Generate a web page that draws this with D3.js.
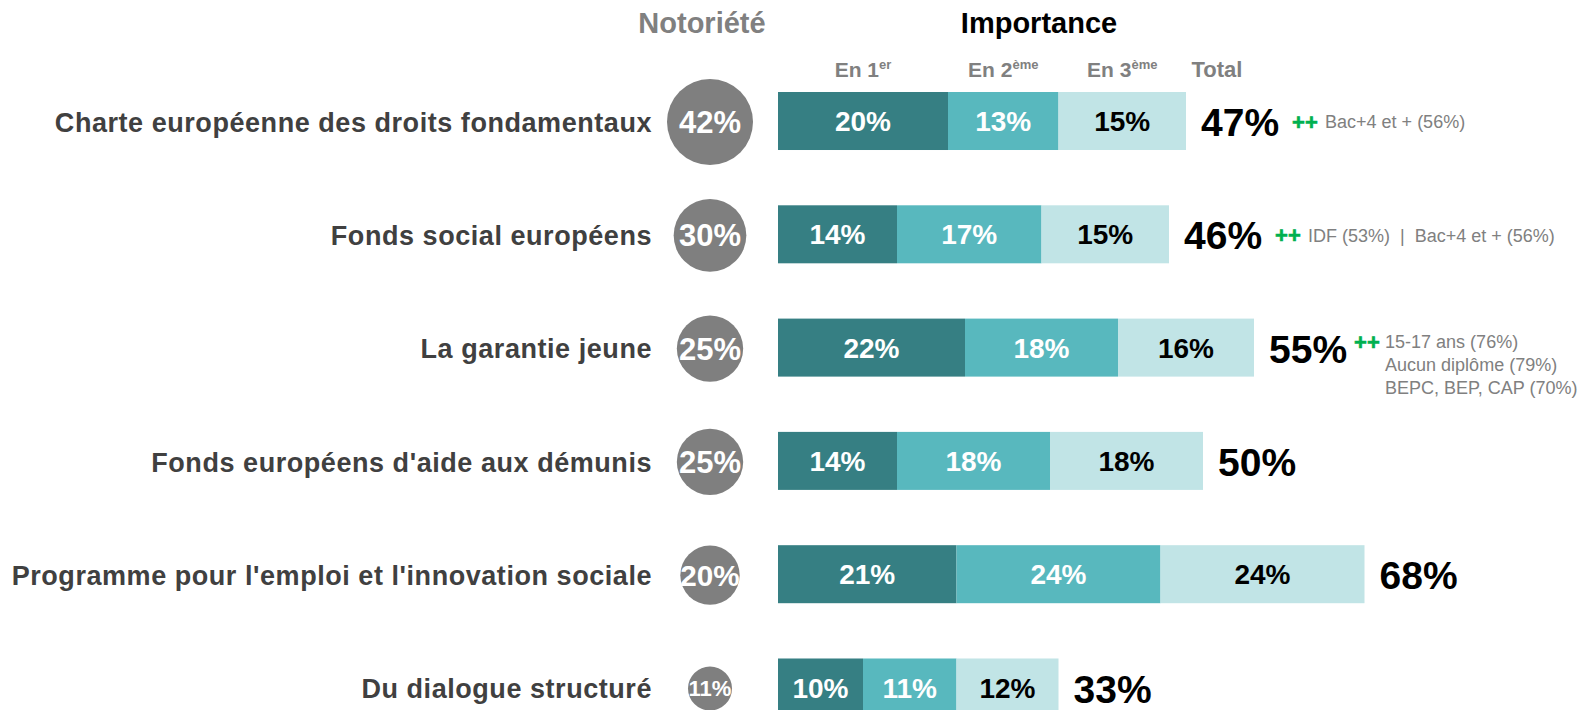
<!DOCTYPE html>
<html>
<head>
<meta charset="utf-8">
<script src="https://cdn.jsdelivr.net/npm/d3@7"></script>
<style>
  html, body { margin: 0; padding: 0; background: #fff; }
  svg { display: block; font-family: "Liberation Sans", Arial, sans-serif; }
</style>
</head>
<body>
<div id="chart"></div>
<script>
// data
const categories = [
  "Charte européenne des droits fondamentaux",
  "Fonds social européens",
  "La garantie jeune",
  "Fonds européens d'aide aux démunis",
  "Programme pour l'emploi et l'innovation sociale",
  "Du dialogue structuré"
];
const notoriete = [42, 30, 25, 25, 20, 11];
const rank1 = [20, 14, 22, 14, 21, 10];
const rank2 = [13, 17, 18, 18, 24, 11];
const rank3 = [15, 15, 16, 18, 24, 12];
const totals = [47, 46, 55, 50, 68, 33];
const seriesNames = ["En 1", "En 2", "En 3"];
const seriesSup = ["er", "ème", "ème"];
const notes = [
  ["Bac+4 et + (56%)"],
  ["IDF (53%)  |  Bac+4 et + (56%)"],
  ["15-17 ans (76%)", "Aucun diplôme (79%)", "BEPC, BEP, CAP (70%)"],
  [],
  [],
  []
];

const width = 1586, height = 710;
const colors = ["#367f83", "#58b8be", "#c1e4e6"];
const textColors = ["#ffffff", "#ffffff", "#000000"];

const svg = d3.select("#chart").append("svg")
  .attr("width", width)
  .attr("height", height);

const y = d3.scaleBand()
  .domain(categories)
  .range([92, 716.5])
  .paddingInner(0.488)
  .paddingOuter(0);

const x = d3.scaleLinear().domain([0, 100]).range([778, 778 + 850]);
const r = d3.scaleSqrt().domain([0, 42]).range([0, 43]);

const rows = categories.map((c, i) => {
  const vals = [rank1[i], rank2[i], rank3[i]];
  let acc = 0;
  const segs = vals.map((v, k) => {
    const s = { k: k, x0: acc, x1: acc + v, v: v, cat: c };
    acc += v;
    return s;
  });
  return { cat: c, i: i, segs: segs, end: acc };
});

// headers
svg.append("text")
  .attr("x", 702).attr("y", 33)
  .attr("text-anchor", "middle")
  .attr("fill", "#808080")
  .style("font-size", "29px").style("font-weight", "bold")
  .text("Notoriété");

svg.append("text")
  .attr("x", 1039).attr("y", 33)
  .attr("text-anchor", "middle")
  .attr("fill", "#000")
  .style("font-size", "29px").style("font-weight", "bold")
  .text("Importance");

// column headers centred over the first row's segments
rows[0].segs.forEach((s, k) => {
  const t = svg.append("text")
    .attr("x", (x(s.x0) + x(s.x1)) / 2)
    .attr("y", 77)
    .attr("text-anchor", "middle")
    .attr("fill", "#808080")
    .style("font-size", "21px").style("font-weight", "bold");
  t.append("tspan").text(seriesNames[k]);
  t.append("tspan")
    .attr("dy", -8)
    .style("font-size", "13px")
    .text(seriesSup[k]);
});

svg.append("text")
  .attr("x", 1217).attr("y", 77)
  .attr("text-anchor", "middle")
  .attr("fill", "#808080")
  .style("font-size", "22px").style("font-weight", "bold")
  .text("Total");

// category labels
svg.selectAll(".cat")
  .data(rows)
  .join("text")
  .attr("class", "cat")
  .attr("x", 652)
  .attr("y", d => y(d.cat) + y.bandwidth() / 2 + 1)
  .attr("dy", "0.36em")
  .attr("text-anchor", "end")
  .attr("fill", "#404040")
  .style("font-size", "27px")
  .style("font-weight", "bold")
  .style("letter-spacing", "0.55px")
  .text(d => d.cat);

// notoriety bubbles
const bubbles = svg.selectAll(".bubble")
  .data(rows)
  .join("g")
  .attr("class", "bubble")
  .attr("transform", d => `translate(710,${y(d.cat) + y.bandwidth() / 2 + 1})`);

bubbles.append("circle")
  .attr("r", d => r(notoriete[d.i]))
  .attr("fill", "#7f7f7f");

bubbles.append("text")
  .attr("text-anchor", "middle")
  .attr("dy", "0.36em")
  .attr("fill", "#fff")
  .style("font-weight", "bold")
  .style("font-size", d => Math.min(31, r(notoriete[d.i])) + "px")
  .text(d => notoriete[d.i] + "%");

// stacked bars
const bars = svg.selectAll(".row")
  .data(rows)
  .join("g")
  .attr("class", "row");

bars.selectAll("rect")
  .data(d => d.segs)
  .join("rect")
  .attr("x", s => x(s.x0))
  .attr("y", s => y(s.cat))
  .attr("width", s => x(s.x1) - x(s.x0))
  .attr("height", y.bandwidth())
  .attr("fill", s => colors[s.k]);

bars.selectAll(".seglabel")
  .data(d => d.segs)
  .join("text")
  .attr("class", "seglabel")
  .attr("x", s => (x(s.x0) + x(s.x1)) / 2)
  .attr("y", s => y(s.cat) + y.bandwidth() / 2)
  .attr("dy", "0.36em")
  .attr("text-anchor", "middle")
  .attr("fill", s => textColors[s.k])
  .style("font-size", "28px")
  .style("font-weight", "bold")
  .text(s => s.v + "%");

// totals + notes
rows.forEach(d => {
  const cy = y(d.cat) + y.bandwidth() / 2;
  const tx = x(d.end) + 15;
  const tot = svg.append("text")
    .attr("x", tx)
    .attr("y", cy + 1)
    .attr("dy", "0.36em")
    .attr("fill", "#000")
    .style("font-size", "39px")
    .style("font-weight", "bold")
    .text(totals[d.i] + "%");

  const lines = notes[d.i];
  if (!lines.length) return;
  const multi = lines.length > 1;
  const px = tx + tot.node().getComputedTextLength() + (multi ? 7 : 13);
  const py = multi ? cy - 6 : cy + 1;
  svg.append("text")
    .attr("x", px)
    .attr("y", py)
    .attr("dy", "0.36em")
    .attr("fill", "#00b050")
    .attr("stroke", "#00b050")
    .attr("stroke-width", 0.6)
    .style("font-size", "22px")
    .style("font-weight", "bold")
    .text("++");
  lines.forEach((ln, j) => {
    svg.append("text")
      .attr("x", px + (multi ? 31 : 33))
      .attr("y", py + j * 23)
      .attr("dy", "0.36em")
      .attr("fill", "#808080")
      .style("font-size", "18px")
      .style("white-space", "pre")
      .text(ln);
  });
});
</script>
</body>
</html>
